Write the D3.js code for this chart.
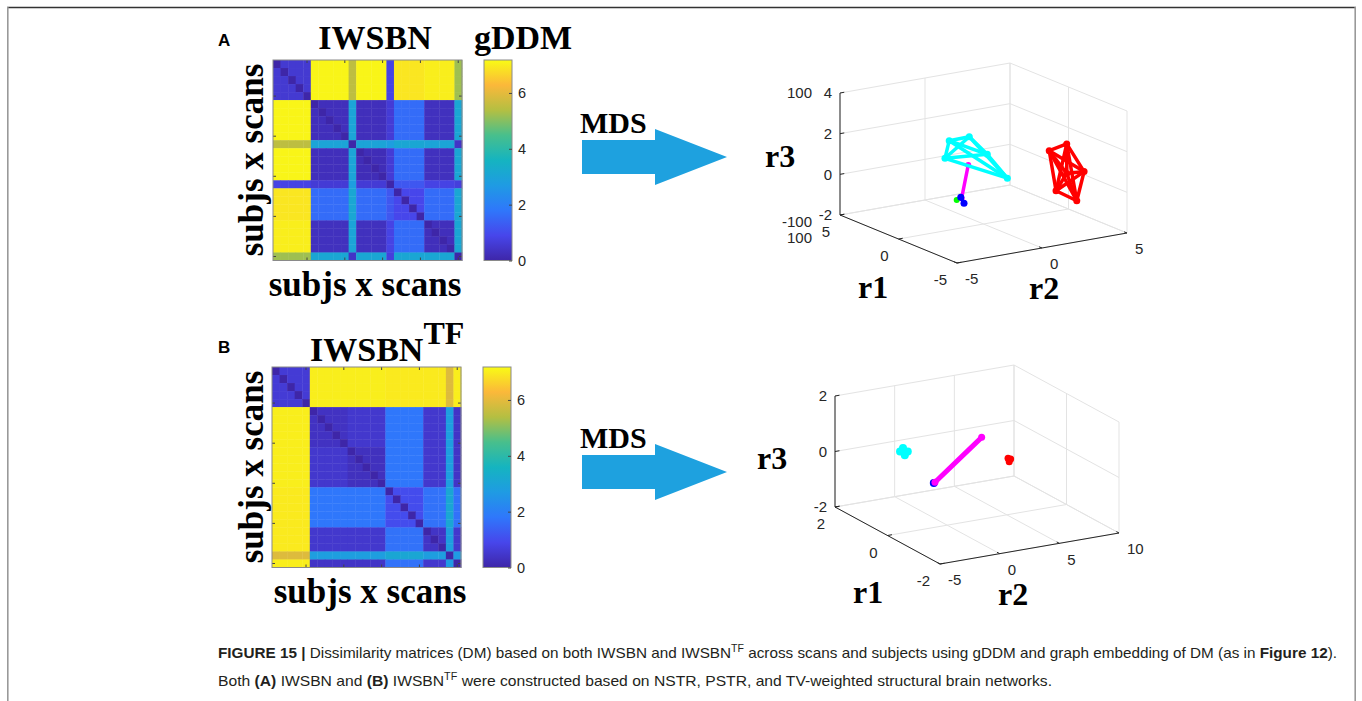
<!DOCTYPE html>
<html>
<head>
<meta charset="utf-8">
<script src="https://cdn.jsdelivr.net/npm/d3@7"></script>
<style>
  body { margin: 0; background: #fff; }
  svg { display: block; font-family: "Liberation Sans", Arial, sans-serif; }
  .serif { font-family: "Liberation Serif", "Times New Roman", serif; font-weight: bold; fill: #000; }
  .tick-lbl { font-size: 15px; fill: #262626; }
</style>
</head>
<body>
<svg id="fig" width="1362" height="701"></svg>
<script>
// ---------------- data ----------------
// matrix A: group of each row / column (subjs x scans) and group-to-group gDDM values
const groupsA = ["a","a","a","a","a","b","b","b","b","b","c","d","d","d","d","e","f","f","f","f","g","g","g","g","h"];
const keysA   = ["a","b","c","d","e","f","g","h"];
const blockA  = [
  [0.55, 7.1, 5.5, 7.1, 0.8, 6.9, 7.0, 5.2],
  [7.1, 0.25, 3.0, 0.25, 0.6, 1.6, 0.3, 3.1],
  [5.5, 3.0, 0.0, 3.0, 2.8, 3.1, 3.0, 0.4],
  [7.1, 0.25, 3.0, 0.2, 0.6, 1.6, 0.3, 3.1],
  [0.8, 0.6, 2.8, 0.6, 0.0, 1.2, 0.8, 0.7],
  [6.9, 1.6, 3.1, 1.6, 1.2, 0.9, 1.6, 3.1],
  [7.0, 0.3, 3.0, 0.3, 0.8, 1.6, 0.25, 3.1],
  [5.2, 3.1, 0.4, 3.1, 0.7, 3.1, 3.1, 0.0]
];
// matrix B
const groupsB = ["a","a","a","a","a","b","b","b","b","b","c","c","c","c","c","d","d","d","d","d","e","e","e","f","g"];
const keysB   = ["a","b","c","d","e","f","g"];
const blockB  = [
  [0.6, 7.0, 7.0, 6.95, 6.95, 5.9, 7.0],
  [7.0, 0.35, 0.5, 1.8, 0.5, 2.8, 0.4],
  [7.0, 0.5, 0.3, 1.8, 0.5, 2.8, 0.4],
  [6.95, 1.8, 1.8, 1.0, 1.7, 3.1, 1.7],
  [6.95, 0.5, 0.5, 1.7, 0.4, 2.8, 0.5],
  [5.9, 2.8, 2.8, 3.1, 2.8, 0.0, 2.7],
  [7.0, 0.4, 0.4, 1.7, 0.5, 2.7, 0.0]
];
const cbTicks = [0, 2, 4, 6];
const cbMax = 7.18;
const matrixTicks = [4, 9, 14, 19, 24];
const parula = ["#3e26a8","#4746eb","#2f77fb","#1f9be3","#15b4c0","#48bf8c","#b4bf42","#fbb83a","#f9fb15"];

// MDS embeddings [r1, r2, r3]
const cyanA    = [[2,-0.64,1.72],[2,0.54,1.74],[2,-0.89,0.89],[2,1.6,0.72],[2,2.78,-0.63]];
const redA     = [[-2,2.49,1.71],[-2,3.52,1.89],[-2,4.54,0.38],[-2,2.89,-0.32],[-2,4.11,-0.99],[-2,3.52,0.44]];
const magentaA = [[2,0.48,0.36],[2,0.09,-1.22]];
const blueA    = [[2,0.04,-1.16],[2,0.23,-1.49]];
const greenA   = [[2,-0.2,-1.26]];
const ghostLabelsA = ["100", "-100", "100"];

const cyanB    = [[0,-3.95,0.95],[0,-3.3,0.9],[0,-3.7,1.06],[0,-3.55,0.78]];
const magentaB = [[0,-1.02,-0.38],[0,2.89,0.95]];
const blueB    = [[0,-1.12,-0.4]];
const redB     = [[0,5.1,0.03],[0,5.32,-0.01],[0,5.2,-0.1]];

// ---------------- drawing ----------------
const svg = d3.select("#fig");

// frame
svg.append("line").attr("x1", 7).attr("x2", 1356).attr("y1", 7.5).attr("y2", 7.5)
  .attr("stroke", "#333").attr("stroke-width", 1.3);
svg.append("line").attr("x1", 7.8).attr("x2", 7.8).attr("y1", 7).attr("y2", 701)
  .attr("stroke", "#999").attr("stroke-width", 1.6);
svg.append("line").attr("x1", 1355.2).attr("x2", 1355.2).attr("y1", 7).attr("y2", 701)
  .attr("stroke", "#999").attr("stroke-width", 1.6);

const color = d3.scaleLinear()
  .domain(parula.map((c, i) => i / (parula.length - 1) * cbMax))
  .range(parula)
  .interpolate(d3.interpolateRgb)
  .clamp(true);

// gradient for colorbar
const grad = svg.append("defs").append("linearGradient")
  .attr("id", "parula").attr("x1", 0).attr("x2", 0).attr("y1", 1).attr("y2", 0);
parula.forEach((c, i) => grad.append("stop").attr("offset", i / (parula.length - 1)).attr("stop-color", c));

function drawMatrix(groups, keys, block, box) {
  const g = svg.append("g");
  const idx = d3.range(groups.length);
  const x = d3.scaleBand().domain(idx).range([box.x0, box.x1]);
  const y = d3.scaleBand().domain(idx).range([box.y0, box.y1]);
  const cells = [];
  idx.forEach(i => idx.forEach(j => {
    const v = i === j ? 0 : block[keys.indexOf(groups[i])][keys.indexOf(groups[j])];
    cells.push({ i, j, v });
  }));
  g.selectAll("rect.cell").data(cells).join("rect")
    .attr("x", d => x(d.j)).attr("y", d => y(d.i))
    .attr("width", x.bandwidth() + 0.4).attr("height", y.bandwidth() + 0.4)
    .attr("fill", d => color(d.v));

  // inward ticks on all four sides
  const tk = (axis, tr) => g.append("g").attr("transform", tr)
    .call(axis.tickValues(matrixTicks).tickSize(3).tickFormat(""))
    .call(s => s.select(".domain").remove())
    .call(s => s.selectAll("line").attr("stroke", "#444"));
  tk(d3.axisRight(y), `translate(${box.x0},0)`);
  tk(d3.axisLeft(y), `translate(${box.x1},0)`);
  tk(d3.axisBottom(x), `translate(0,${box.y0})`);
  tk(d3.axisTop(x), `translate(0,${box.y1})`);

  g.append("rect").attr("x", box.x0).attr("y", box.y0)
    .attr("width", box.x1 - box.x0).attr("height", box.y1 - box.y0)
    .attr("fill", "none").attr("stroke", "#8a8a8a").attr("stroke-width", 1);

  // colorbar
  const cy = d3.scaleLinear().domain([0, cbMax]).range([box.y1, box.y0]);
  g.append("rect").attr("x", box.cb0).attr("y", box.y0)
    .attr("width", box.cb1 - box.cb0).attr("height", box.y1 - box.y0)
    .attr("fill", "url(#parula)").attr("stroke", "#8a8a8a");
  g.append("g").attr("transform", `translate(${box.cb1},0)`)
    .call(d3.axisRight(cy).tickValues(cbTicks).tickSizeInner(-3).tickSizeOuter(0).tickPadding(6))
    .call(s => s.select(".domain").remove())
    .call(s => s.selectAll("line").attr("stroke", "#444"))
    .call(s => s.selectAll("text").attr("font-size", 14.5).attr("fill", "#262626")
      .attr("font-family", "Liberation Sans, Arial, sans-serif"));
}

drawMatrix(groupsA, keysA, blockA, { x0: 273, x1: 462, y0: 60, y1: 260.5, cb0: 484, cb1: 512 });
drawMatrix(groupsB, keysB, blockB, { x0: 272, x1: 461, y0: 367, y1: 567.5, cb0: 483, cb1: 511 });

// panel letters and titles
function txt(x, y, s, cls, size, anchor) {
  return svg.append("text").attr("x", x).attr("y", y).attr("class", cls || null)
    .attr("font-size", size).attr("text-anchor", anchor || "start").text(s);
}
txt(218, 46, "A", null, 17).attr("font-weight", "bold");
txt(218, 353, "B", null, 17).attr("font-weight", "bold");
txt(375, 49, "IWSBN", "serif", 34, "middle");
txt(523, 49, "gDDM", "serif", 34, "middle");
const tB = svg.append("text").attr("x", 310).attr("y", 361).attr("class", "serif").attr("font-size", 34);
tB.append("tspan").text("IWSBN");
tB.append("tspan").attr("dy", -17).attr("font-size", 32).text("TF");

[[160, 365, 296], [467, 370, 603]].forEach(([cyc, cx, by]) => {
  svg.append("text").attr("class", "serif").attr("font-size", 35).attr("text-anchor", "middle")
    .attr("transform", `translate(263,${cyc}) rotate(-90)`).text("subjs x scans");
  txt(cx, by, "subjs x scans", "serif", 35, "middle");
});

// MDS arrows
function arrow(yMid, yText) {
  const p = d3.path();
  p.moveTo(582, yMid - 17); p.lineTo(655, yMid - 17); p.lineTo(655, yMid - 28);
  p.lineTo(727, yMid); p.lineTo(655, yMid + 28); p.lineTo(655, yMid + 17);
  p.lineTo(582, yMid + 17); p.closePath();
  svg.append("path").attr("d", p.toString()).attr("fill", "#1ea1df");
  txt(580, yText, "MDS", "serif", 30);
}
arrow(157, 133);
arrow(472, 448);

// ---------------- 3D scatter / graph embedding ----------------
function draw3d(cfg) {
  const g = svg.append("g");
  const u = d3.scaleLinear().domain(cfg.r1Dom).range([0, 1]);
  const v = d3.scaleLinear().domain(cfg.r2Dom).range([0, 1]);
  const w = d3.scaleLinear().domain(cfg.r3Dom).range([0, 1]);
  const e1 = [cfg.F[0] - cfg.L[0], cfg.F[1] - cfg.L[1]];
  const e2 = [cfg.R[0] - cfg.F[0], cfg.R[1] - cfg.F[1]];
  const P = (a, b, c) => {
    const uu = u(a), vv = v(b), ww = w(c);
    return [cfg.L[0] + uu * e1[0] + vv * e2[0], cfg.L[1] + uu * e1[1] + vv * e2[1] - ww * cfg.H];
  };
  const [r1a, r1b] = cfg.r1Dom, [r2a, r2b] = cfg.r2Dom, [r3a, r3b] = cfg.r3Dom;
  const seg = (p, q, stroke, sw) => g.append("line")
    .attr("x1", p[0]).attr("y1", p[1]).attr("x2", q[0]).attr("y2", q[1])
    .attr("stroke", stroke).attr("stroke-width", sw);

  const grid = "#e3e3e3";
  cfg.r1Ticks.forEach(t => {
    seg(P(t, r2a, r3a), P(t, r2b, r3a), grid, 1);          // floor
    seg(P(t, r2b, r3a), P(t, r2b, r3b), grid, 1);          // back-right wall
  });
  cfg.r2Ticks.forEach(t => {
    seg(P(r1a, t, r3a), P(r1b, t, r3a), grid, 1);          // floor
    seg(P(r1a, t, r3a), P(r1a, t, r3b), grid, 1);          // back-left wall
  });
  cfg.r3Ticks.forEach(t => {
    seg(P(r1a, r2a, t), P(r1a, r2b, t), grid, 1);
    seg(P(r1a, r2b, t), P(r1b, r2b, t), grid, 1);
  });

  // axes
  const ax = "#262626";
  seg(P(r1a, r2a, r3a), P(r1a, r2a, r3b), ax, 1);
  seg(P(r1a, r2a, r3a), P(r1b, r2a, r3a), ax, 1);
  seg(P(r1b, r2a, r3a), P(r1b, r2b, r3a), ax, 1);
  const dv = (r2b - r2a) * 0.025, du = (r1a - r1b) * 0.025;
  cfg.r3Ticks.forEach(t => {
    seg(P(r1a, r2a, t), P(r1a, r2a + dv, t), ax, 1);
    const p = P(r1a, r2a, t);
    g.append("text").attr("class", "tick-lbl").attr("x", p[0] - 8).attr("y", p[1])
      .attr("dy", "0.36em").attr("text-anchor", "end").text(t);
  });
  cfg.r1Ticks.forEach(t => {
    seg(P(t, r2a, r3a), P(t, r2a + dv, r3a), ax, 1);
    const p = P(t, r2a, r3a);
    g.append("text").attr("class", "tick-lbl").attr("x", p[0] - 10).attr("y", p[1] + 17)
      .attr("dy", "0.36em").attr("text-anchor", "end").text(t);
  });
  cfg.r2Ticks.forEach(t => {
    seg(P(r1b, t, r3a), P(r1b + du, t, r3a), ax, 1);
    const p = P(r1b, t, r3a);
    g.append("text").attr("class", "tick-lbl").attr("x", p[0] + 8).attr("y", p[1] + 16)
      .attr("dy", "0.36em").attr("text-anchor", "start").text(t);
  });

  // clusters: complete graph within each cluster
  cfg.clusters.forEach(cl => {
    const pts = cl.pts.map(d => P(d[0], d[1], d[2]));
    for (let i = 0; i < pts.length; i++)
      for (let j = i + 1; j < pts.length; j++)
        seg(pts[i], pts[j], cl.color, cl.lw).attr("stroke-linecap", "round");
    g.selectAll(null).data(pts).join("circle")
      .attr("cx", d => d[0]).attr("cy", d => d[1]).attr("r", cl.r).attr("fill", cl.color);
  });

  cfg.labels.forEach(([s, x, y]) => txt(x, y, s, "serif", 32));
  return { g, P };
}

const A3 = draw3d({
  L: [840, 215], F: [957, 263], R: [1127, 233], H: 122,
  r1Dom: [5, -5], r2Dom: [-5, 5], r3Dom: [-2, 4],
  r1Ticks: [-5, 0, 5], r2Ticks: [-5, 0, 5], r3Ticks: [-2, 0, 2, 4],
  clusters: [
    { pts: magentaA, color: "#ff00ff", lw: 3.5, r: 3 },
    { pts: greenA, color: "#00ff00", lw: 3, r: 3 },
    { pts: blueA, color: "#0000ff", lw: 3.5, r: 3.5 },
    { pts: cyanA, color: "#00ffff", lw: 3.5, r: 3.5 },
    { pts: redA, color: "#ff0000", lw: 3.5, r: 3.5 }
  ],
  labels: [["r3", 765, 167], ["r1", 858, 298], ["r2", 1029, 299]]
});
// overlapping axis labels left by the original figure
const gl = A3.P(5, -5, 4), gb = A3.P(5, -5, -2);
[[gl[1]], [gb[1] + 7], [gb[1] + 23]].forEach(([yy], i) => {
  svg.append("text").attr("class", "tick-lbl").attr("x", gl[0] - 28).attr("y", yy)
    .attr("dy", "0.36em").attr("text-anchor", "end").text(ghostLabelsA[i]);
});

draw3d({
  L: [835, 507], F: [940, 564], R: [1119, 533], H: 111,
  r1Dom: [2, -2], r2Dom: [-5, 10], r3Dom: [-2, 2],
  r1Ticks: [-2, 0, 2], r2Ticks: [-5, 0, 5, 10], r3Ticks: [-2, 0, 2],
  clusters: [
    { pts: blueB, color: "#0000ff", lw: 3, r: 4 },
    { pts: cyanB, color: "#00ffff", lw: 4, r: 4 },
    { pts: magentaB, color: "#ff00ff", lw: 5, r: 3.5 },
    { pts: redB, color: "#ff0000", lw: 4, r: 3.5 }
  ],
  labels: [["r3", 757, 469], ["r1", 853, 603], ["r2", 998, 605]]
});

// ---------------- caption ----------------
const cap1 = [
  ["FIGURE 15 | ", "b"], ["Dissimilarity matrices (DM) based on both IWSBN and IWSBN", ""], ["TF", "sup"],
  [" across scans and subjects using gDDM and graph embedding of DM (as in ", ""], ["Figure 12", "b"], [").", ""]
];
const cap2 = [
  ["Both ", ""], ["(A)", "b"], [" IWSBN and ", ""], ["(B)", "b"], [" IWSBN", ""], ["TF", "sup"],
  [" were constructed based on NSTR, PSTR, and TV-weighted structural brain networks.", ""]
];
function caption(parts, y, len) {
  const t = svg.append("text").attr("x", 218).attr("y", y).attr("font-size", 14.5).attr("fill", "#231f20")
    .attr("font-family", "'Liberation Sans Narrow', 'Liberation Sans', Arial, sans-serif")
    .attr("textLength", len).attr("lengthAdjust", "spacingAndGlyphs");
  let up = false;
  parts.forEach(([s, k]) => {
    const ts = t.append("tspan").text(s);
    if (k === "b") ts.attr("font-weight", "bold");
    if (k === "sup") { ts.attr("font-size", 10).attr("dy", -6); up = true; }
    else if (up) { ts.attr("dy", 6); up = false; }
  });
}
caption(cap1, 658, 1119);
caption(cap2, 686, 834);
</script>
</body>
</html>
